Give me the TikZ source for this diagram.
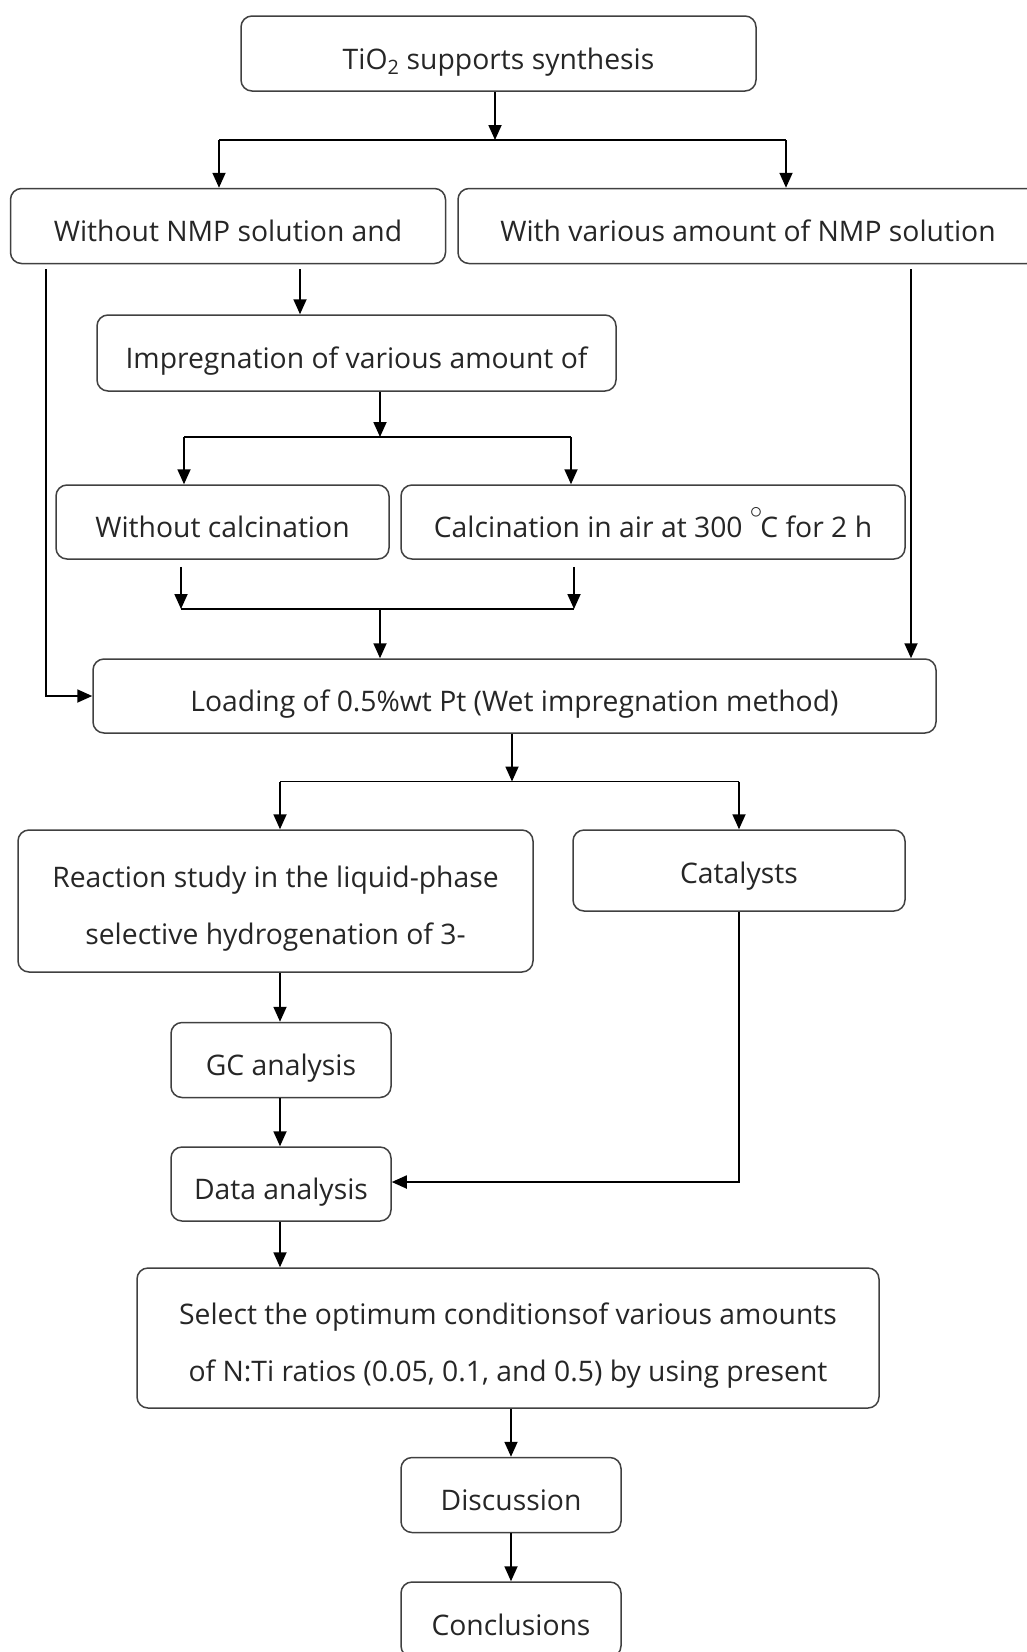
\documentclass[tikz,border=0pt]{standalone}
\usepackage{fontspec}
\setmainfont{Open Sans}
\usetikzlibrary{arrows.meta}

\begin{document}
\begin{tikzpicture}[
  x=1pt, y=-1pt,
  box/.style={draw=black!75, line width=1.5pt, rounded corners=11pt, align=center, inner sep=0pt,
    text=black!85, font=\fontsize{28.3}{57}\selectfont},
  single/.style={box, text height=31pt, text depth=0pt},
  arrow/.style={-{Triangle[length=15pt,width=13pt]}, line width=1.8pt},
  line/.style={line width=1.8pt}
]
\useasboundingbox (0,0) rectangle (1027,1652);

% boxes
\node[single, minimum width=515pt, minimum height=75pt] (tio2) at (498.5,53.5) {TiO\textsubscript{2} supports synthesis};
\node[single, minimum width=435pt, minimum height=75pt] (noNMP) at (228,226) {Without NMP solution and};
\node[single, minimum width=580pt, minimum height=75pt] (withNMP) at (748,226) {With various amount of NMP solution};
\node[single, minimum width=519pt, minimum height=76pt] (impreg) at (356.5,353) {Impregnation of various amount of};
\node[single, minimum width=333pt, minimum height=74pt] (nocalc) at (222.5,522) {Without calcination};
\node[single, minimum width=504pt, minimum height=74pt] (calc) at (653,522)
  {Calcination in air at 300 \raisebox{19pt}{\fontsize{26}{26}\selectfont$\circ$}\kern-2ptC for 2 h};
\node[single, minimum width=843pt, minimum height=74pt] (loading) at (514.5,696) {Loading of 0.5\%wt Pt (Wet impregnation method)};
\node[box, minimum width=515pt, minimum height=142pt] (reaction) at (275.5,901)
  {\rule{0pt}{36pt}Reaction study in the liquid-phase\\selective hydrogenation of 3-};
\node[single, text height=26pt, minimum width=332pt, minimum height=81pt] (catalysts) at (739,870.5) {Catalysts};
\node[single, minimum width=220pt, minimum height=75pt] (gc) at (281,1060) {GC analysis};
\node[single, minimum width=220pt, minimum height=74pt] (data) at (281,1184) {Data analysis};
\node[box, minimum width=742pt, minimum height=140pt] (select) at (508,1338)
  {\rule{0pt}{36pt}Select the optimum conditionsof various amounts\\of N:Ti ratios (0.05, 0.1, and 0.5) by using present};
\node[single, minimum width=220pt, minimum height=75pt] (discussion) at (511,1495) {Discussion};
\node[single, minimum width=220pt, minimum height=75pt] (conclusions) at (511,1619.5) {Conclusions};

% junctions
\coordinate (j1) at (495,140);
\coordinate (jl1) at (219,140);
\coordinate (jr1) at (786,140);
\coordinate (byL) at (46,0);
\coordinate (byR) at (911,0);
\coordinate (a1) at (300,0);
\coordinate (j2) at (380,437);
\coordinate (jl2) at (184,437);
\coordinate (jr2) at (571,437);
\coordinate (j3) at (380,609);
\coordinate (jl3) at (181,609);
\coordinate (jr3) at (574,609);
\coordinate (j4) at (512,781.5);
\coordinate (jl4) at (280,781.5);
\coordinate (jr4) at (739,781.5);
\coordinate (c1) at (280,0);

% connectors
\draw[arrow] (tio2.south -| j1) -- (j1);
\draw[line] (jl1) -- (jr1);
\draw[arrow] (jl1) -- (jl1 |- noNMP.north);
\draw[arrow] (jr1) -- (jr1 |- withNMP.north);

\draw[arrow, shorten <=5pt] (noNMP.south -| byL) |- (loading.west);
\draw[arrow, shorten <=5pt] (withNMP.south -| byR) -- (loading.north -| byR);
\draw[arrow, shorten <=5pt] (noNMP.south -| a1) -- (impreg.north -| a1);

\draw[arrow] (impreg.south -| j2) -- (j2);
\draw[line] (jl2) -- (jr2);
\draw[arrow] (jl2) -- (jl2 |- nocalc.north);
\draw[arrow] (jr2) -- (jr2 |- calc.north);

\draw[arrow, shorten <=7pt] (nocalc.south -| jl3) -- (jl3);
\draw[arrow, shorten <=7pt] (calc.south -| jr3) -- (jr3);
\draw[line] (jl3) -- (jr3);
\draw[arrow] (j3) -- (loading.north -| j3);

\draw[arrow] (loading.south -| j4) -- (j4);
\draw[line] (jl4) -- (jr4);
\draw[arrow] (jl4) -- (jl4 |- reaction.north);
\draw[arrow] (jr4) -- (jr4 |- catalysts.north);

\draw[arrow] (reaction.south -| c1) -- (gc.north -| c1);
\draw[arrow] (gc.south -| c1) -- (data.north -| c1);
\draw[arrow] (catalysts.south) |- ([yshift=2pt]data.east);
\draw[arrow] (data.south -| c1) -- (select.north -| c1);
\draw[arrow] (select.south -| discussion) -- (discussion);
\draw[arrow] (discussion) -- (conclusions);
\end{tikzpicture}
\end{document}
